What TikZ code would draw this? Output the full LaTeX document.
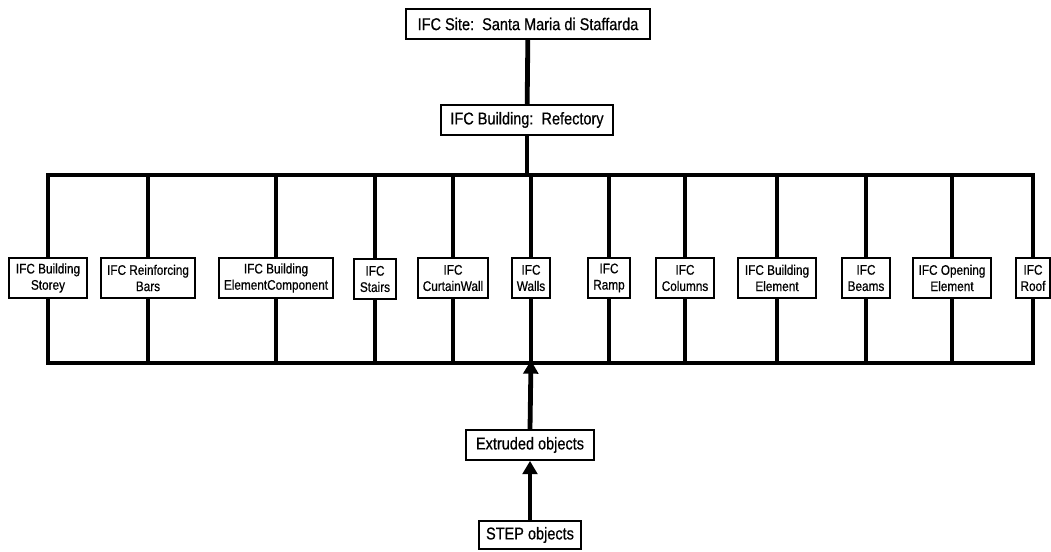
\documentclass[tikz,border=0pt]{standalone}
\usepackage{fontspec}
\setmainfont{Liberation Sans}[FakeStretch=0.85,FakeBold=0.6]
\usetikzlibrary{arrows.meta,backgrounds}
\begin{document}
\begin{tikzpicture}[x=0.75pt,y=-0.75pt,
  bx/.style={draw=black,line width=1.3pt,fill=white,inner sep=0pt,font=\fontsize{10.4}{12.2}\selectfont,align=center},
  one/.style={bx,minimum height=22.5pt,font=\fontsize{12.8}{14}\selectfont},
  two/.style={bx,minimum height=30pt},
  thick line/.style={line width=3.6pt},
  arr/.style={thick line,-{Triangle[length=10pt,width=11pt]}}]
\useasboundingbox (0,0) rectangle (1051,552);
\node[one,minimum width=183pt] (site) at (528,24) {IFC Site:~~Santa Maria di Staffarda};
\node[one,minimum width=129pt] (bld) at (527,120) {IFC Building:~~Refectory};
\coordinate (tl) at (48,175);
\coordinate (br) at (1033,363);
\node[two,minimum width=58pt] (storey) at (48,278) {IFC Building\\Storey};
\node[two,minimum width=70pt] (rebar) at (148,278) {IFC Reinforcing\\Bars};
\node[two,minimum width=86pt] (elcomp) at (276,278) {IFC Building\\ElementComponent};
\node[two,minimum width=31pt] (stairs) at (375,279) {IFC\\Stairs};
\node[two,minimum width=53pt] (curtain) at (453,278) {IFC\\CurtainWall};
\node[two,minimum width=29pt] (walls) at (531,278) {IFC\\Walls};
\node[two,minimum width=31pt] (ramp) at (609,278) {IFC\\Ramp};
\node[two,minimum width=43pt] (columns) at (685,278) {IFC\\Columns};
\node[two,minimum width=58pt] (bldel) at (777,278) {IFC Building\\Element};
\node[two,minimum width=36pt] (beams) at (866,278) {IFC\\Beams};
\node[two,minimum width=58pt] (opening) at (952,278) {IFC Opening\\Element};
\node[two,minimum width=26pt] (roof) at (1033,278) {IFC\\Roof};
\node[one,minimum width=96pt] (extr) at (530,445) {Extruded objects};
\node[one,minimum width=77pt,minimum height=21pt] (step) at (530,535) {STEP objects};
\begin{pgfonlayer}{background}
\draw[thick line] (tl) rectangle (br);
\draw[thick line] (site) -- (bld);
\draw[thick line] (bld) -- (bld |- tl);
\foreach \n in {rebar,elcomp,stairs,curtain,walls,ramp,columns,bldel,beams,opening}{
  \draw[thick line] (\n) -- (\n |- tl);
  \draw[thick line] (\n) -- (\n |- br);
}
\end{pgfonlayer}
\coordinate (busin) at (walls |- br);
\draw[arr] (extr.north) -- ([yshift=2pt]busin);
\draw[arr] (step.north) -- (extr.south);
\end{tikzpicture}
\end{document}
